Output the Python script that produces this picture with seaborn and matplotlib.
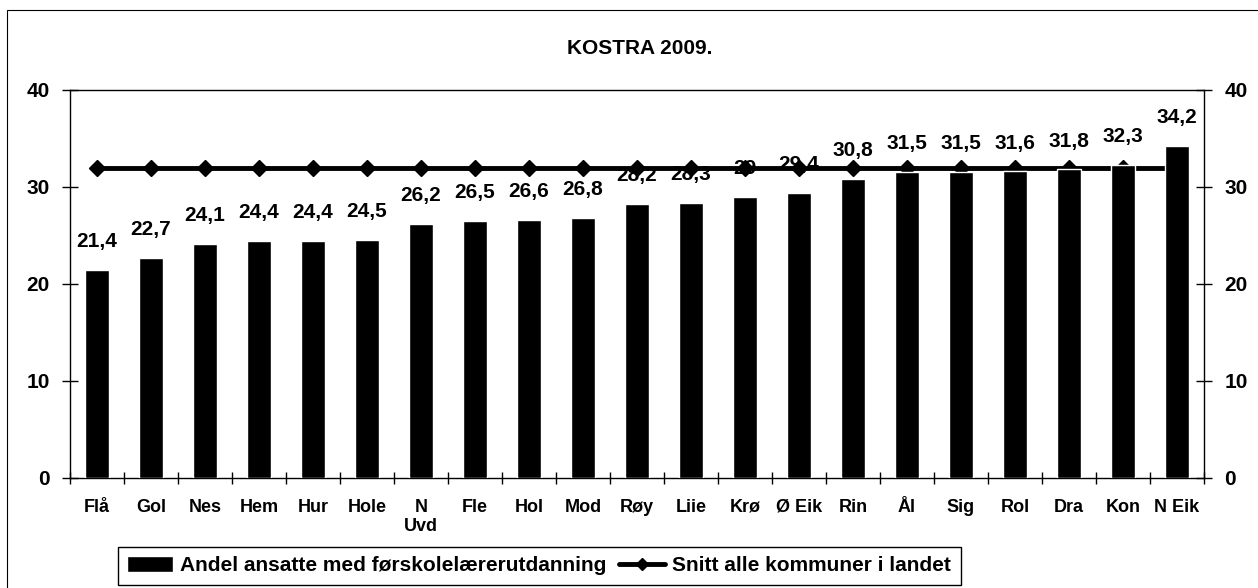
import numpy as np
import matplotlib
matplotlib.use("Agg")
import matplotlib.pyplot as plt
from matplotlib.patches import Rectangle
import seaborn as sns

# data
kommuner = ["Flå", "Gol", "Nes", "Hem", "Hur", "Hole", "N\nUvd", "Fle", "Hol", "Mod", "Røy",
            "Liie", "Krø", "Ø Eik", "Rin", "Ål", "Sig", "Rol", "Dra", "Kon", "N Eik"]
andel = [21.4, 22.7, 24.1, 24.4, 24.4, 24.5, 26.2, 26.5, 26.6, 26.8, 28.2,
         28.3, 29.0, 29.4, 30.8, 31.5, 31.5, 31.6, 31.8, 32.3, 34.2]
snitt_landet = 32.0
snitt = [snitt_landet] * len(kommuner)
yticks = [0, 10, 20, 30, 40]

sns.set_style("ticks")
plt.rcParams["font.family"] = ["Liberation Sans", "DejaVu Sans"]
plt.rcParams["font.weight"] = "bold"
plt.rcParams["text.color"] = "black"
plt.rcParams["xtick.color"] = "black"
plt.rcParams["ytick.color"] = "black"
plt.rcParams["axes.labelcolor"] = "black"

W, H = 1258, 588
fig = plt.figure(figsize=(W / 100, H / 100), dpi=100)
ax = fig.add_axes([70 / W, 1 - 477.7 / H, (1204 - 70) / W, (477.7 - 90) / H])

sns.barplot(x=kommuner, y=andel, color="black", width=0.46, saturation=1,
            errorbar=None, ax=ax, zorder=3)
n = len(kommuner)
line, = ax.plot(np.arange(n), snitt, color="black", lw=3.5, marker="D", ms=8, zorder=2)

for i, v in enumerate(andel):
    ax.annotate(f"{v:g}".replace(".", ","), (i, v), xytext=(0, 16.5),
                textcoords="offset points", ha="center", va="baseline",
                fontsize=15, fontweight="bold", zorder=1.5)

ax.set_xlim(-0.5, n - 0.5)
ax.set_ylim(0, 40)
ax.set_yticks(yticks)
ax.set_xlabel("")
ax.set_ylabel("")
for s in ax.spines.values():
    s.set_visible(True)
    s.set_color("black")
    s.set_linewidth(1.0)

ax.set_xticks(np.arange(-0.5, n, 1.0), minor=True)
ax.tick_params(axis="x", which="major", length=0, pad=15, labelsize=13)
ax.tick_params(axis="x", which="minor", direction="inout", length=8, width=1)
ax.tick_params(axis="y", direction="inout", length=11.5, width=1, pad=9, labelsize=15)

ax2 = ax.twinx()
ax2.set_ylim(0, 40)
ax2.set_yticks(yticks)
ax2.tick_params(axis="y", direction="inout", length=11.5, width=1, pad=9, labelsize=15)
for s in ax2.spines.values():
    s.set_visible(False)

fig.text(640 / W, 1 - 48.5 / H, "KOSTRA 2009.", ha="center", va="center",
         fontsize=15, fontweight="bold")

# outer frame of the chart area
fig.add_artist(Rectangle((7 / W, -0.05), 1.0, 1 - 10 / H + 0.05, transform=fig.transFigure,
                         fill=False, edgecolor="black", lw=0.8))

bar_handle = ax.patches[0]
leg = fig.legend([bar_handle, line],
                 ["Andel ansatte med førskolelærerutdanning", "Snitt alle kommuner i landet"],
                 loc="upper left", bbox_to_anchor=(118 / W, 1 - 547 / H), ncol=2,
                 frameon=True, fancybox=False, edgecolor="black", framealpha=1,
                 prop={"size": 15, "weight": "bold"}, handlelength=2.2, handleheight=0.75,
                 handletextpad=0.35, columnspacing=0.6, borderpad=0.45, borderaxespad=0,
                 markerscale=0.75)
leg.get_frame().set_linewidth(1.0)

fig.savefig("out.png", dpi=100)
